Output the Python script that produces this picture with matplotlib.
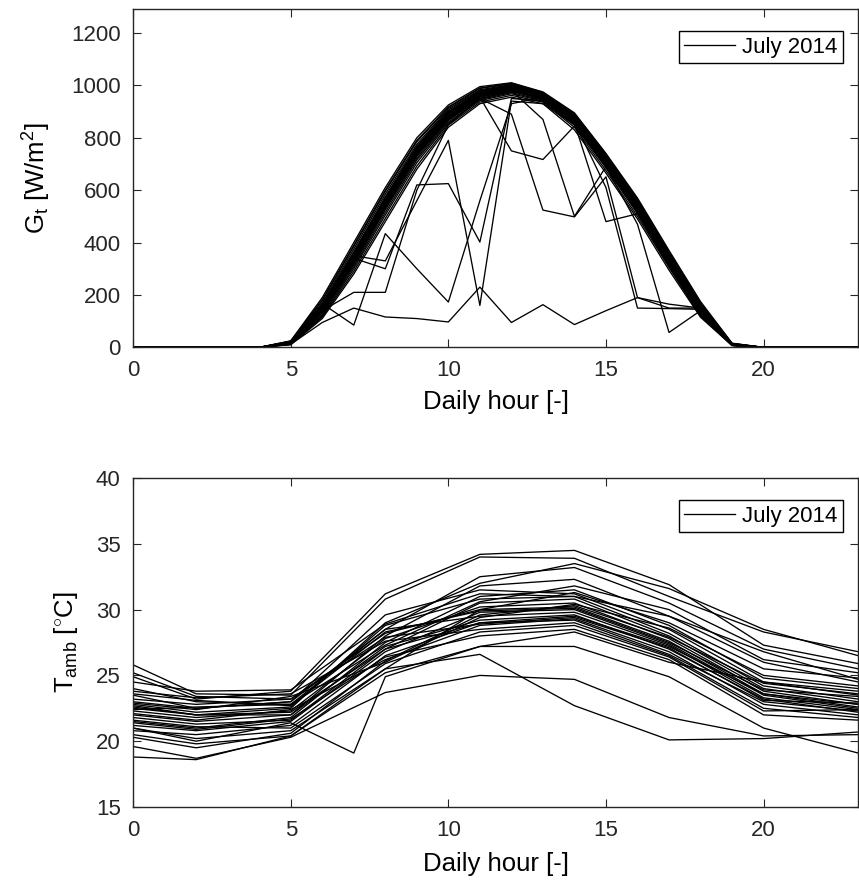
import matplotlib
matplotlib.use("Agg")
import matplotlib.pyplot as plt

plt.rcParams['font.family'] = ['Liberation Sans', 'DejaVu Sans']
plt.rcParams['mathtext.fontset'] = 'custom'
plt.rcParams['mathtext.rm'] = 'Liberation Sans'
plt.rcParams['mathtext.it'] = 'Liberation Sans'

# Stunden fuer die Einstrahlung (stuendlich)
hours = list(range(24))

# Globalstrahlung G_t [W/m2], ein Eintrag pro Tag (Juli 2014)
irradiance = [
    [0, 0, 0, 0, 0, 25, 190, 400, 610, 800, 925, 995, 1010, 975, 895, 740, 570, 370, 175, 16, 0, 0, 0, 0],
    [0, 0, 0, 0, 0, 20, 160, 360, 570, 765, 900, 975, 1000, 968, 880, 722, 550, 350, 155, 13, 0, 0, 0, 0],
    [0, 0, 0, 0, 0, 15, 135, 320, 530, 730, 870, 955, 985, 955, 865, 705, 530, 330, 140, 10, 0, 0, 0, 0],
    [0, 0, 0, 0, 0, 10, 110, 280, 480, 680, 840, 930, 955, 930, 830, 665, 490, 295, 115, 7, 0, 0, 0, 0],
    [0, 0, 0, 0, 0, 18, 150, 345, 555, 750, 890, 968, 992, 960, 872, 712, 538, 340, 148, 11, 0, 0, 0, 0],
    [0, 0, 0, 0, 0, 22, 170, 375, 585, 775, 910, 983, 1003, 970, 886, 730, 556, 356, 162, 14, 0, 0, 0, 0],
    [0, 0, 0, 0, 0, 12, 120, 300, 505, 705, 855, 942, 968, 940, 848, 685, 510, 312, 125, 8, 0, 0, 0, 0],
    [0, 0, 0, 0, 0, 17, 148, 340, 550, 745, 885, 965, 990, 958, 870, 710, 536, 338, 145, 11, 0, 0, 0, 0],
    [0, 0, 0, 0, 0, 14, 130, 315, 525, 722, 866, 950, 978, 948, 858, 695, 520, 322, 132, 9, 0, 0, 0, 0],
    [0, 0, 0, 0, 0, 21, 165, 365, 575, 768, 905, 980, 1000, 966, 882, 726, 552, 352, 158, 13, 0, 0, 0, 0],
    [0, 0, 0, 0, 0, 19, 155, 352, 562, 755, 895, 972, 995, 962, 876, 716, 542, 345, 150, 12, 0, 0, 0, 0],
    [0, 0, 0, 0, 0, 16, 142, 332, 542, 738, 880, 960, 985, 953, 866, 704, 528, 332, 138, 10, 0, 0, 0, 0],
    [0, 0, 0, 0, 0, 23, 178, 385, 595, 785, 915, 988, 1006, 972, 890, 735, 562, 362, 168, 15, 0, 0, 0, 0],
    [0, 0, 0, 0, 0, 13, 125, 308, 515, 715, 860, 946, 972, 944, 852, 690, 515, 318, 128, 8, 0, 0, 0, 0],
    [0, 0, 0, 0, 0, 18, 152, 348, 558, 752, 892, 970, 993, 961, 874, 714, 540, 342, 146, 11, 0, 0, 0, 0],
    [0, 0, 0, 0, 0, 20, 162, 358, 568, 760, 898, 976, 998, 964, 878, 720, 546, 348, 152, 12, 0, 0, 0, 0],
    [0, 0, 0, 0, 0, 11, 115, 290, 492, 692, 848, 936, 962, 936, 840, 675, 500, 305, 120, 7, 0, 0, 0, 0],
    [0, 0, 0, 0, 0, 24, 182, 390, 600, 790, 918, 990, 1008, 973, 892, 738, 565, 365, 170, 15, 0, 0, 0, 0],
    [0, 0, 0, 0, 0, 15, 138, 325, 535, 733, 874, 957, 982, 950, 862, 700, 525, 328, 135, 10, 0, 0, 0, 0],
    [0, 0, 0, 0, 0, 19, 158, 355, 565, 758, 896, 974, 997, 963, 877, 718, 544, 347, 153, 12, 0, 0, 0, 0],
    [0, 0, 0, 0, 0, 17, 145, 337, 548, 742, 883, 963, 988, 956, 868, 708, 534, 336, 142, 11, 0, 0, 0, 0],
    [0, 0, 0, 0, 0, 12, 95, 150, 116, 110, 97, 230, 95, 163, 87, 140, 190, 165, 150, 10, 0, 0, 0, 0],
    [0, 0, 0, 0, 0, 15, 167, 85, 434, 300, 173, 560, 930, 955, 860, 700, 520, 330, 135, 9, 0, 0, 0, 0],
    [0, 0, 0, 0, 0, 15, 140, 210, 210, 600, 850, 950, 975, 955, 865, 705, 530, 330, 135, 10, 0, 0, 0, 0],
    [0, 0, 0, 0, 0, 18, 150, 340, 300, 620, 625, 402, 950, 940, 860, 700, 528, 328, 132, 9, 0, 0, 0, 0],
    [0, 0, 0, 0, 0, 14, 120, 350, 330, 560, 790, 160, 940, 930, 850, 690, 515, 320, 128, 8, 0, 0, 0, 0],
    [0, 0, 0, 0, 0, 18, 150, 335, 550, 740, 880, 955, 750, 717, 845, 700, 530, 330, 135, 10, 0, 0, 0, 0],
    [0, 0, 0, 0, 0, 15, 140, 330, 540, 735, 870, 950, 890, 524, 498, 651, 190, 150, 150, 10, 0, 0, 0, 0],
    [0, 0, 0, 0, 0, 16, 145, 332, 545, 738, 876, 958, 980, 870, 500, 690, 470, 57, 140, 8, 0, 0, 0, 0],
    [0, 0, 0, 0, 0, 17, 147, 338, 552, 744, 884, 964, 987, 950, 860, 610, 150, 148, 145, 9, 0, 0, 0, 0],
    [0, 0, 0, 0, 0, 14, 137, 326, 538, 733, 874, 956, 979, 946, 856, 480, 510, 310, 120, 8, 0, 0, 0, 0],
]

# Umgebungstemperatur T_amb [°C], Messungen alle 3 Stunden
temp_hours = [0, 2, 5, 8, 11, 14, 17, 20, 23]
temperature = [
    [25.8, 23.6, 23.5, 30.8, 34.0, 33.9, 31.0, 28.3, 26.8],
    [24.9, 23.2, 23.8, 31.2, 34.2, 34.5, 31.9, 27.3, 25.9],
    [22.5, 22.0, 22.5, 29.0, 32.0, 33.5, 31.6, 28.5, 26.5],
    [23.0, 22.5, 23.0, 28.5, 32.5, 33.2, 30.5, 27.0, 25.5],
    [22.0, 21.5, 22.0, 28.0, 31.8, 32.3, 29.5, 26.0, 24.5],
    [21.5, 21.0, 21.8, 27.5, 31.0, 31.5, 28.8, 24.8, 24.0],
    [23.5, 22.5, 23.0, 29.6, 31.5, 31.2, 28.5, 24.5, 23.5],
    [22.8, 22.2, 22.6, 28.8, 30.8, 31.0, 28.2, 24.2, 23.2],
    [21.8, 21.3, 21.6, 27.0, 30.5, 30.8, 28.0, 24.0, 23.0],
    [22.3, 21.8, 22.3, 27.8, 30.2, 30.5, 27.8, 23.8, 22.8],
    [23.2, 22.8, 23.2, 28.2, 30.0, 30.2, 27.6, 23.6, 22.6],
    [21.2, 20.8, 21.5, 26.8, 29.8, 30.0, 27.4, 23.5, 22.5],
    [24.0, 23.0, 22.8, 28.5, 29.5, 29.8, 27.3, 23.3, 22.4],
    [22.6, 22.0, 22.0, 27.2, 29.2, 29.6, 27.0, 23.2, 22.2],
    [20.8, 20.5, 21.2, 26.5, 29.0, 29.5, 27.2, 23.6, 22.8],
    [22.1, 21.6, 22.4, 26.2, 28.8, 29.3, 26.8, 22.8, 22.0],
    [23.8, 23.3, 23.6, 27.6, 28.5, 29.0, 26.5, 22.5, 21.8],
    [21.6, 21.1, 21.0, 25.9, 28.3, 28.8, 26.4, 22.3, 22.4],
    [22.9, 22.4, 23.4, 26.0, 29.4, 30.4, 28.6, 25.0, 24.2],
    [24.5, 23.8, 23.9, 28.9, 31.2, 31.0, 29.5, 26.8, 24.7],
    [21.0, 20.2, 20.8, 25.5, 30.0, 31.3, 29.0, 25.5, 24.8],
    [22.4, 22.6, 22.8, 27.3, 30.6, 31.8, 30.0, 26.2, 25.2],
    [20.5, 19.8, 20.4, 25.2, 27.2, 28.3, 26.0, 24.5, 23.8],
    [22.7, 22.0, 22.2, 27.0, 29.0, 29.2, 26.6, 23.0, 22.3],
    [19.6, 18.7, 20.3, 23.7, 25.0, 24.7, 21.8, 20.4, 20.5],
    [18.8, 18.6, 20.4, 25.5, 26.6, 22.7, 20.1, 20.2, 20.7],
    [21.4, 20.9, 21.7, 26.4, 28.0, 28.5, 26.2, 22.0, 21.6],
    [25.2, 23.4, 23.2, 27.9, 28.9, 29.4, 27.1, 23.1, 22.9],
    [23.6, 23.1, 22.7, 28.3, 29.9, 30.1, 27.5, 23.9, 23.4],
    [20.3, 19.5, 20.6, 26.1, 29.6, 30.3, 27.9, 24.4, 23.6],
]
# ein Tag mit zusaetzlichem Messwert um 7 Uhr
odd_hours = [0, 2, 5, 7, 8, 11, 14, 17, 20, 23]
odd_temperature = [21.0, 20.0, 21.4, 19.1, 24.9, 27.2, 27.2, 24.9, 21.0, 19.1]

LW = 0.95
TICK_FS = 16
LABEL_FS = 18.5
LEG_FS = 16

fig = plt.figure(figsize=(8.59, 8.93), dpi=100)
ax1 = fig.add_axes([0.155, 0.611, 0.844, 0.3785])
ax2 = fig.add_axes([0.155, 0.0963, 0.844, 0.3684])

for i, day in enumerate(irradiance):
    ax1.plot(hours, day, color='black', linewidth=LW,
             label='July 2014' if i == 0 else None)

for i, day in enumerate(temperature):
    ax2.plot(temp_hours, day, color='black', linewidth=LW,
             label='July 2014' if i == 0 else None)
ax2.plot(odd_hours, odd_temperature, color='black', linewidth=LW)

ax1.set_xlim(0, 23)
ax1.set_ylim(0, 1290)
ax1.set_yticks(range(0, 1201, 200))
ax1.set_ylabel(r'G$_{\mathregular{t}}$ [W/m$^{\mathregular{2}}$]', fontsize=LABEL_FS)
ax1.yaxis.set_label_coords(-0.110, 0.5)
ax1.xaxis.set_label_coords(0.5, -0.127)

ax2.set_xlim(0, 23)
ax2.set_ylim(15, 40)
ax2.set_yticks(range(15, 41, 5))
ax2.set_ylabel(r'T$_{\mathregular{amb}}$ [$^{\circ}$C]', fontsize=LABEL_FS)
ax2.yaxis.set_label_coords(-0.073, 0.5)
ax2.xaxis.set_label_coords(0.5, -0.137)

for ax, ytop in ((ax1, 0.935), (ax2, 0.933)):
    ax.set_xticks(range(0, 21, 5))
    ax.set_xlabel('Daily hour [-]', fontsize=LABEL_FS)
    ax.tick_params(direction='in', top=True, right=True, length=6,
                   width=0.8, labelsize=TICK_FS, colors='#262626', pad=9)
    for s in ax.spines.values():
        s.set_linewidth(1.0)
        s.set_color('#262626')
    leg = ax.legend(loc='upper right', bbox_to_anchor=(0.979, ytop),
                    borderaxespad=0, fontsize=LEG_FS, fancybox=False,
                    framealpha=1, edgecolor='black', handlelength=2.3,
                    handletextpad=0.3, borderpad=0.25)
    leg.get_frame().set_linewidth(1.0)

fig.savefig('out.png', dpi=100)
